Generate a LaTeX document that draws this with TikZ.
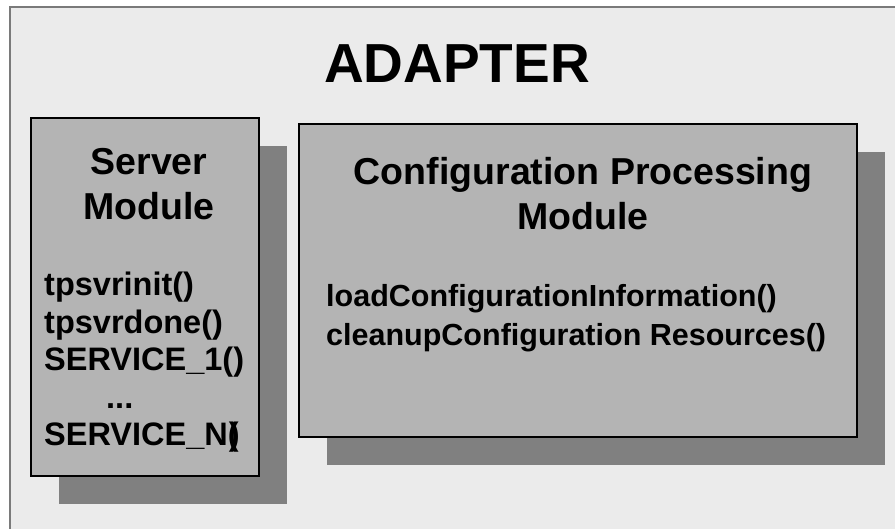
\documentclass[tikz,border=0pt]{standalone}
\usepackage{fontspec}
\setmainfont{Liberation Sans}
\usetikzlibrary{positioning, shadows}

\definecolor{framebg}{HTML}{EBEBEB}
\definecolor{framerule}{HTML}{7A7A7A}
\definecolor{modfill}{HTML}{B4B4B4}
\definecolor{modshadow}{HTML}{808080}

\begin{document}
\begin{tikzpicture}[x=1pt, y=-1pt,
		module/.style={draw=black, line width=2pt, fill=modfill, inner sep=0pt,
			drop shadow={shadow xshift=28pt, shadow yshift=-28pt, fill=modshadow, opacity=1}},
		modtitle/.style={font=\fontsize{37.5}{45}\selectfont\bfseries, align=center, inner sep=0pt},
		fnlist/.style={font=\fontsize{32.5}{37.5}\selectfont\bfseries, align=left, inner sep=0pt},
	]
	\useasboundingbox (0,0) rectangle (895,528);
	\clip (0,0) rectangle (895,528);

	% adapter frame, runs past the right and bottom edge
	\draw[framerule, line width=1.5pt, fill=framebg] (10,7) rectangle (910,545);
	\node[font=\fontsize{55}{60}\selectfont\bfseries, inner sep=0pt] (adapter) at (457,64) {ADAPTER};

	% server module
	\node[module, minimum width=228pt, minimum height=358pt] (srvbox) at (145,297) {};
	\node[modtitle, below=31pt of srvbox.north, xshift=4pt] (srvtitle) {Server\\Module};
	\node[fnlist, below right=155pt and 14pt of srvbox.north west] (srvfns) {%
		tpsvrinit()\\
		tpsvrdone()\\
		SERVICE\_1()\\
		\hspace*{62pt}...\\
		SERVICE\_N(\kern-0.3em)};

	% configuration processing module
	\node[module, minimum width=558pt, minimum height=313pt] (cfgbox) at (578,280.5) {};
	\node[modtitle, below=34pt of cfgbox.north, xshift=5pt] (cfgtitle) {Configuration Processing\\Module};
	\node[fnlist, font=\fontsize{30.5}{39}\selectfont\bfseries,
		below right=161pt and 28pt of cfgbox.north west] (cfgfns) {%
		loadConfigurationInformation()\\
		cleanupConfiguration Resources()};
\end{tikzpicture}
\end{document}
